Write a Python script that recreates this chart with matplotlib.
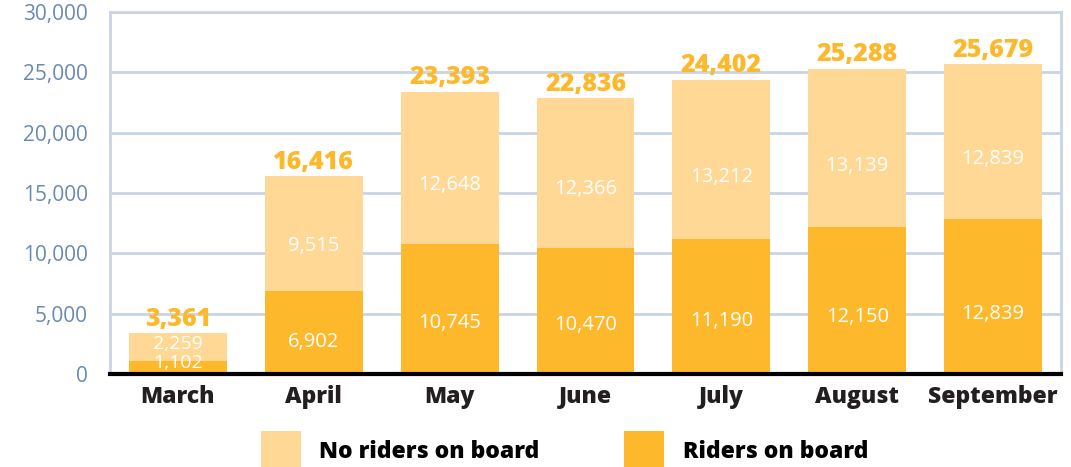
import matplotlib
matplotlib.use('agg')
import matplotlib.pyplot as plt
import numpy as np

months = ['March', 'April', 'May', 'June', 'July', 'August', 'September']
riders = [1102, 6902, 10745, 10470, 11190, 12150, 12839]
no_riders = [2259, 9515, 12648, 12366, 13212, 13139, 12839]
totals = [3361, 16416, 23393, 22836, 24402, 25288, 25679]

c_riders = '#fdb92b'
c_none = '#fed894'
grid_c = '#c9d4e4'
tick_c = '#6a8ab4'

plt.rcParams['font.family'] = ['Open Sans', 'DejaVu Sans']

fig = plt.figure(figsize=(10.71, 4.67), dpi=100)
ax = fig.add_axes([110 / 1071, 1 - 374 / 467, 951 / 1071, 362 / 467])

x = np.arange(len(months))
ax.bar(x, riders, width=0.72, color=c_riders, label='Riders on board', zorder=2)
ax.bar(x, no_riders, width=0.72, bottom=riders, color=c_none,
       label='No riders on board', zorder=2)

for i in range(len(months)):
    if totals[i] < 5000:
        # short bar: labels squeezed into the middle
        y1, y2, o1, o2 = riders[i] / 2, riders[i] + no_riders[i] / 2, 3, 2
        fs = 14
    else:
        # labels sit a little below the middle of each segment
        y1, y2, o1, o2 = 0.39 * riders[i], riders[i] + 0.39 * no_riders[i], 0, 0
        fs = 14.5
    ax.annotate('{:,}'.format(riders[i]), (x[i], y1), xytext=(0, o1),
                textcoords='offset points', ha='center', va='center',
                color='white', fontsize=fs, zorder=3)
    ax.annotate('{:,}'.format(no_riders[i]), (x[i], y2), xytext=(0, o2),
                textcoords='offset points', ha='center', va='center',
                color='white', fontsize=fs, zorder=3)
    ax.annotate('{:,}'.format(totals[i]), (x[i], totals[i]), xytext=(0, 1),
                textcoords='offset points', ha='center', va='bottom',
                color=c_riders, fontsize=18, fontweight='heavy', zorder=3)

ax.set_xlim(-0.5, 6.5)
ax.set_ylim(0, 30000)
ax.set_yticks(np.arange(0, 30001, 5000))
ax.set_yticklabels(['{:,}'.format(v) for v in range(0, 30001, 5000)])
ax.set_xticks(x)
ax.set_xticklabels(months, fontsize=16.5, fontweight='heavy', color='#231f20')
ax.tick_params(axis='y', length=0, pad=16, labelsize=15, labelcolor=tick_c)
ax.tick_params(axis='x', length=0, pad=8)
ax.yaxis.grid(True, color=grid_c, linewidth=2, zorder=0)
ax.set_axisbelow(True)
for s in ['left', 'top', 'right']:
    ax.spines[s].set_color(grid_c)
    ax.spines[s].set_linewidth(2)
ax.spines['bottom'].set_color('black')
ax.spines['bottom'].set_linewidth(3)
ax.spines['bottom'].set_zorder(4)

h, l = ax.get_legend_handles_labels()
fig.legend(h[::-1], l[::-1], loc='lower center', bbox_to_anchor=(0.527, -0.052),
           ncol=2, frameon=False, prop={'size': 16.5, 'weight': 'heavy'},
           handlelength=1.75, handleheight=2.3, handletextpad=0.8,
           columnspacing=3.7)

fig.savefig('out.png', dpi=100)
